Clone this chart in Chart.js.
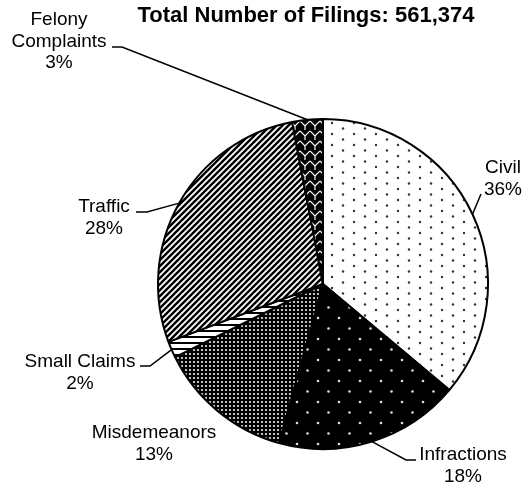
<!DOCTYPE html>
<html>
<head>
<meta charset="utf-8">
<script src="https://cdn.jsdelivr.net/npm/chart.js@4/dist/chart.umd.min.js"></script>
<style>
    html, body { margin: 0; padding: 0; background: #fff; }
    #wrap { width: 526px; height: 489px; position: relative; }
</style>
</head>
<body>
<div id="wrap"><canvas id="filings"></canvas></div>
<script>
// Dados do gráfico (fatias no sentido horário a partir do topo)
const categories = ['Civil', 'Infractions', 'Misdemeanors', 'Small Claims', 'Traffic', ['Felony', 'Complaints']];
const shares = [36.1, 18.2, 13.4, 1.6, 27.7, 3.0];
const totalFilings = 561374;
const titleText = 'Total Number of Filings: ' + totalFilings.toLocaleString('en-US');

// Posição dos rótulos relativa ao centro da pizza (texto, gancho e cotovelo da linha)
const labelSpots = [
    { dx: 180, dy: -111, hook: [158, -90] },
    { dx: 140, dy: 176, hook: [93, 176], elbow: [83, 176] },
    { dx: -169, dy: 154 },
    { dx: -243, dy: 83, hook: [-183, 82], elbow: [-173, 82] },
    { dx: -219, dy: -72, hook: [-187, -72], elbow: [-176, -72] },
    { dx: -264, dy: -259, hook: [-211, -237], elbow: [-201, -237] },
];

const FONT = '"Liberation Sans", Arial, sans-serif';

// Padrões de preenchimento (estilo Excel preto e branco)
function makePattern(w, h, draw) {
    const c = document.createElement('canvas');
    c.width = w;
    c.height = h;
    const g = c.getContext('2d');
    draw(g, w, h);
    return g.createPattern(c, 'repeat');
}

function dot(g, x, y, r, color) {
    g.fillStyle = color;
    g.beginPath();
    g.arc(x, y, r, 0, Math.PI * 2);
    g.fill();
}

const patterns = [
    // Civil: pontos cinza esparsos sobre branco
    makePattern(22, 11, (g, w, h) => {
        g.fillStyle = '#fff';
        g.fillRect(0, 0, w, h);
        dot(g, 2, 2, 1.2, '#333');
        dot(g, 13, 7.5, 1.2, '#333');
    }),
    // Infractions: pontos brancos sobre preto
    makePattern(21, 21, (g, w, h) => {
        g.fillStyle = '#000';
        g.fillRect(0, 0, w, h);
        dot(g, 3, 3, 1.3, '#ddd');
        dot(g, 13.5, 13.5, 1.3, '#ddd');
    }),
    // Misdemeanors: trama densa
    makePattern(4, 4, (g, w, h) => {
        g.fillStyle = '#000';
        g.fillRect(0, 0, w, h);
        dot(g, 2, 2, 1.1, '#eee');
    }),
    // Small Claims: listras horizontais
    makePattern(6, 6, (g, w, h) => {
        g.fillStyle = '#fff';
        g.fillRect(0, 0, w, h);
        g.fillStyle = '#000';
        g.fillRect(0, 0, w, 2);
    }),
    // Traffic: listras diagonais
    makePattern(6, 6, (g, w, h) => {
        g.fillStyle = '#fff';
        g.fillRect(0, 0, w, h);
        g.strokeStyle = '#000';
        g.lineWidth = 2.4;
        g.beginPath();
        g.moveTo(-3, 3); g.lineTo(3, -3);
        g.moveTo(0, 6); g.lineTo(6, 0);
        g.moveTo(3, 9); g.lineTo(9, 3);
        g.stroke();
    }),
    // Felony Complaints: zigue-zague branco sobre preto
    makePattern(10, 10, (g, w, h) => {
        g.fillStyle = '#000';
        g.fillRect(0, 0, w, h);
        g.strokeStyle = '#fff';
        g.lineWidth = 1.2;
        g.beginPath();
        g.moveTo(0, 1); g.lineTo(5, 6); g.lineTo(10, 1);
        g.moveTo(5, 6); g.lineTo(5, 10);
        g.stroke();
    }),
];

// Plugin: título e rótulos com linhas de chamada
const calloutPlugin = {
    id: 'callouts',
    afterDatasetsDraw(chart) {
        const ctx = chart.ctx;
        const meta = chart.getDatasetMeta(0);
        const data = chart.data.datasets[0].data;
        const total = data.reduce((a, b) => a + b, 0);

        ctx.save();
        ctx.fillStyle = '#000';
        ctx.font = 'bold 22px ' + FONT;
        ctx.textAlign = 'center';
        ctx.textBaseline = 'alphabetic';
        ctx.fillText(titleText, 306, 22);

        ctx.font = '19px ' + FONT;
        ctx.strokeStyle = '#000';
        ctx.lineWidth = 1.5;

        meta.data.forEach((arc, i) => {
            const p = arc.getProps(['x', 'y', 'startAngle', 'endAngle', 'outerRadius'], true);
            const mid = (p.startAngle + p.endAngle) / 2;
            const ex = p.x + Math.cos(mid) * p.outerRadius;
            const ey = p.y + Math.sin(mid) * p.outerRadius;
            const spot = labelSpots[i];

            if (spot.hook) {
                ctx.beginPath();
                ctx.moveTo(p.x + spot.hook[0], p.y + spot.hook[1]);
                if (spot.elbow) ctx.lineTo(p.x + spot.elbow[0], p.y + spot.elbow[1]);
                ctx.lineTo(ex, ey);
                ctx.stroke();
            }

            const name = chart.data.labels[i];
            const lines = (Array.isArray(name) ? name : [name]).concat(Math.round(data[i] / total * 100) + '%');
            lines.forEach((ln, k) => {
                ctx.fillText(ln, p.x + spot.dx, p.y + spot.dy + k * 21.5);
            });
        });
        ctx.restore();
    }
};

new Chart(document.getElementById('filings'), {
    type: 'pie',
    data: {
        labels: categories,
        datasets: [{
            data: shares,
            backgroundColor: patterns,
            borderColor: '#000',
            borderWidth: 2,
        }]
    },
    options: {
        responsive: true,
        maintainAspectRatio: false,
        animation: false,
        events: [],
        layout: {
            padding: { left: 157, right: 37, top: 118, bottom: 39 }
        },
        plugins: {
            legend: { display: false },
            tooltip: { enabled: false },
            title: { display: false },
        },
    },
    plugins: [calloutPlugin],
});
</script>
</body>
</html>
